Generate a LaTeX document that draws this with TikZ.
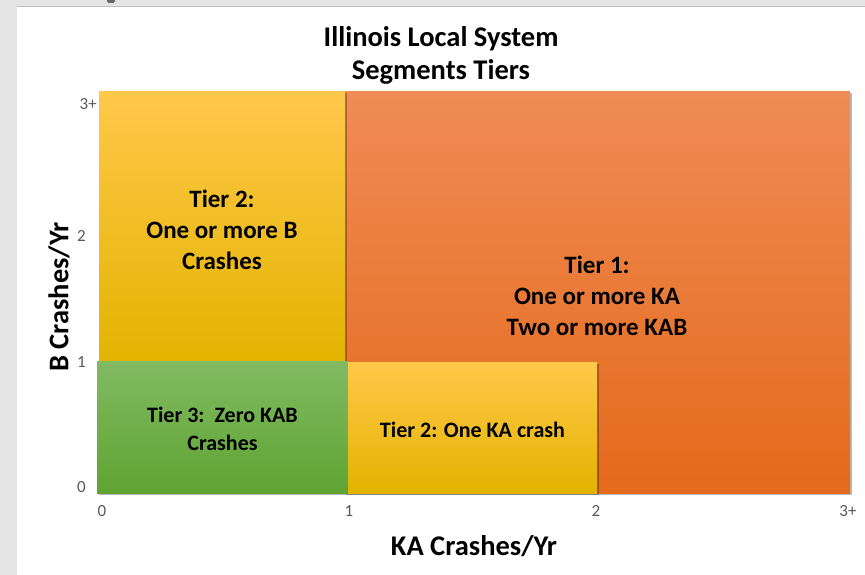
\documentclass[tikz,border=0pt]{standalone}
\usepackage{fontspec}
\setmainfont{Carlito}
\usetikzlibrary{shadings,shadows}
\definecolor{bgGray}{HTML}{E4E4E4}
\definecolor{tickGray}{HTML}{595959}
\definecolor{yTop}{HTML}{FFC84A}
\definecolor{yMid}{HTML}{FFC000}
\definecolor{yBot}{HTML}{E2B400}
\definecolor{oTop}{HTML}{F08B55}
\definecolor{oMid}{HTML}{F37A2A}
\definecolor{oBot}{HTML}{E46A1B}
\definecolor{gTop}{HTML}{82BA62}
\definecolor{gMid}{HTML}{6DB042}
\definecolor{gBot}{HTML}{5EA432}
\tikzset{
  tier/.style={rectangle, inner sep=0pt,
    drop shadow={shadow xshift=1.5pt, shadow yshift=-1.5pt, opacity=0.28, fill=black}},
  yel/.style={tier, top color=yTop, middle color=yMid, bottom color=yBot},
  ora/.style={tier, top color=oTop, middle color=oMid, bottom color=oBot},
  gre/.style={tier, top color=gTop, middle color=gMid, bottom color=gBot},
  bigtxt/.style={align=center, inner sep=0pt, font=\fontsize{25}{31}\selectfont\bfseries},
  smalltxt/.style={align=center, inner sep=0pt, font=\fontsize{22}{28}\selectfont\bfseries},
  tick/.style={text=tickGray, font=\fontsize{17}{18}\selectfont, inner sep=0pt},
  axlab/.style={font=\fontsize{28.5}{30}\selectfont\bfseries, inner sep=0pt},
}
\begin{document}
\begin{tikzpicture}[x=1pt,y=-1pt]
\useasboundingbox (0,0) rectangle (865,575);
\fill[bgGray] (0,0) rectangle (865,575);
\fill[white] (17,6) rectangle (865,575);
\draw[gray!50, line width=0.8pt] (17,6) -- (865,6);
\fill[gray!80!black, rounded corners=1.5pt] (107,-3) rectangle (115,3);
% title
\node[font=\fontsize{28.5}{33}\selectfont\bfseries, align=center] (title) at (441,55.5) {Illinois Local System\\Segments Tiers};
% boxes
\node[ora, minimum width=506pt, minimum height=401pt] (t1) at (597,292.5) {};
\node[yel, minimum width=246pt, minimum height=270pt] (t2a) at (222,227) {};
\node[gre, minimum width=251pt, minimum height=132pt] (t3) at (222.5,427) {};
\node[yel, minimum width=249pt, minimum height=131pt] (t2b) at (472.5,427.5) {};
% box texts
\node[bigtxt] (t1txt) at (597,295.5) {Tier 1:\\One or more KA\\Two or more KAB};
\node[bigtxt] (t2atxt) at (222,230) {Tier 2:\\One or more B\\Crashes};
\node[smalltxt] (t3txt) at (222.5,429) {Tier 3:\ \ Zero KAB\\Crashes};
\node[smalltxt] (t2btxt) at (472.5,430) {Tier 2: One KA crash};
% y ticks
\node[tick, anchor=east] (y3) at (97,104) {3+};
\node[tick, anchor=east] (y2) at (86,236) {2};
\node[tick, anchor=east] (y1) at (86,362) {1};
\node[tick, anchor=east] (y0) at (86,487) {0};
% x ticks
\node[tick] (x0) at (102,511) {0};
\node[tick] (x1) at (349,511) {1};
\node[tick] (x2) at (596,511) {2};
\node[tick] (x3) at (848,511) {3+};
% axis labels
\node[axlab, rotate=90] (ylab) at (59,297) {B Crashes/Yr};
\node[axlab] (xlab) at (474,546) {KA Crashes/Yr};
\end{tikzpicture}
\end{document}
